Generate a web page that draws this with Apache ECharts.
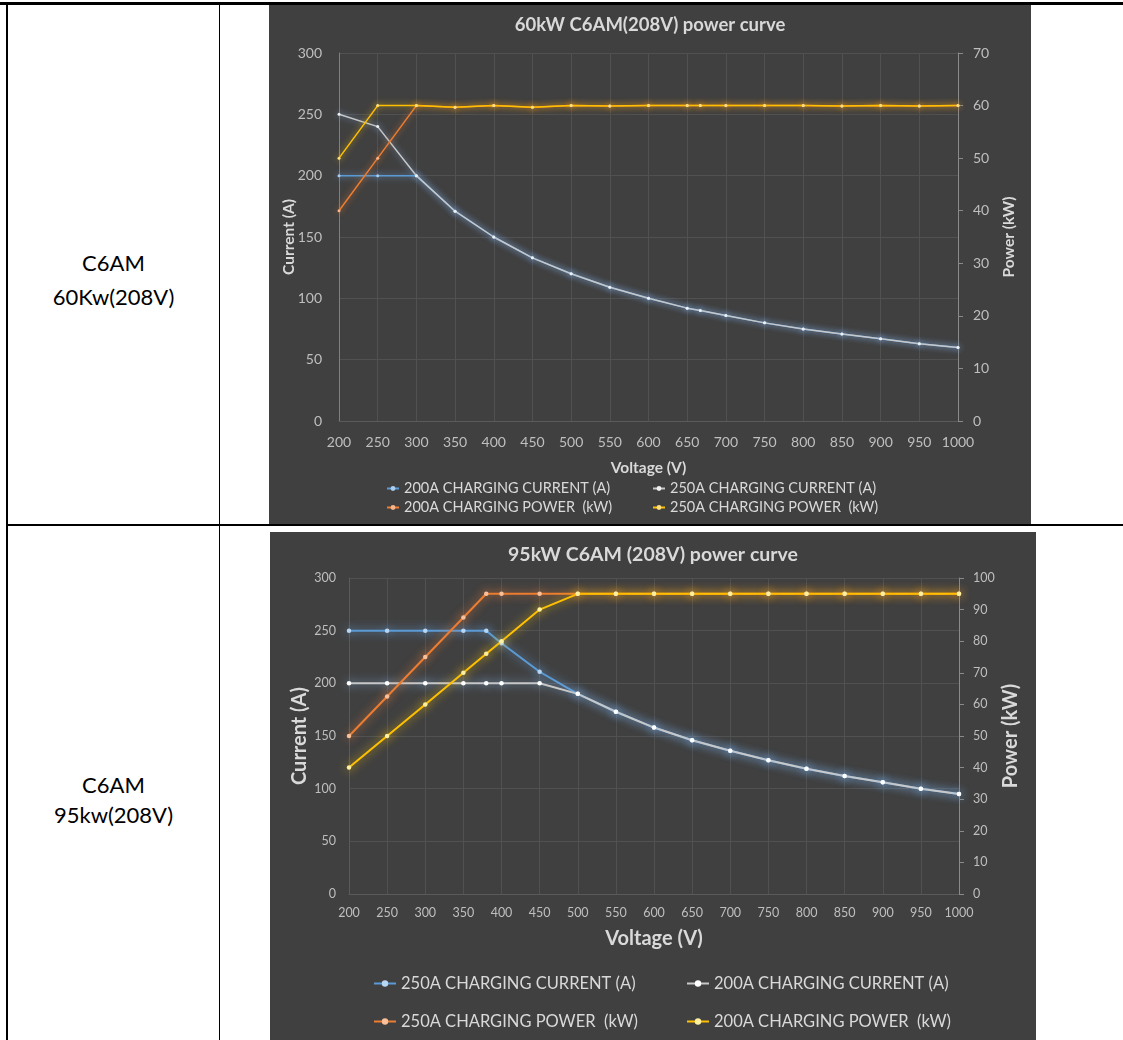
<!DOCTYPE html>
<html><head><meta charset="utf-8">
<script src="https://cdn.jsdelivr.net/npm/echarts@6/dist/echarts.min.js"></script>
<style>
html,body{margin:0;padding:0;background:#fff;width:1123px;height:1040px;overflow:hidden;}
.ln{position:absolute;background:#000;}
.lbl{position:absolute;left:8px;width:211px;text-align:center;font-family:Lato,'Noto Sans',sans-serif;font-size:22px;color:#000;line-height:30px;height:30px;white-space:nowrap;}
#c1{position:absolute;left:269px;top:5px;width:762px;height:519px;}
#c2{position:absolute;left:270px;top:532px;width:766px;height:508px;outline:1px solid #a0a0a0;outline-offset:-1px;}
</style></head><body>
<div class="ln" style="left:0;top:2px;width:1123px;height:3px"></div>
<div class="ln" style="left:6px;top:2px;width:2px;height:1038px"></div>
<div class="ln" style="left:219px;top:2px;width:1px;height:1038px"></div>
<div class="ln" style="left:6px;top:524px;width:1117px;height:2px"></div>
<div class="lbl" id="r1a" style="top:248px"></div>
<div class="lbl" id="r1b" style="top:282px"></div>
<div class="lbl" id="r2a" style="top:770px"></div>
<div class="lbl" id="r2b" style="top:800px"></div>
<div id="c1"></div>
<div id="c2"></div>
<script>
// ---------- Row labels ----------
const rowLabels1 = ['C6AM', '60Kw(208V)'];
const rowLabels2 = ['C6AM', '95kw(208V)'];

// ---------- Chart 1 data: 60kW ----------
const title1 = '60kW C6AM(208V) power curve';
const voltage1 = [200,250,300,350,400,450,500,550,600,650,667,700,750,800,850,900,950,1000];
const names1 = ['200A CHARGING CURRENT (A)','250A CHARGING CURRENT (A)','200A CHARGING POWER  (kW)','250A CHARGING POWER  (kW)'];
const cur200A_60 = [200,200,200,171,150,133,120,109,100,92,90,86,80,75,71,67,63,60];
const cur250A_60 = [250,240,200,171,150,133,120,109,100,92,90,86,80,75,71,67,63,60];
const pow200A_60 = [40,50,60,59.7,60,59.7,60,59.9,60,60,60,60,60,60,59.9,60,59.9,60];
const pow250A_60 = [50,60,60,59.7,60,59.7,60,59.9,60,60,60,60,60,60,59.9,60,59.9,60];
const powerMax1 = 70;

// ---------- Chart 2 data: 95kW ----------
const title2 = '95kW C6AM (208V) power curve';
const voltage2 = [200,250,300,350,380,400,450,500,550,600,650,700,750,800,850,900,950,1000];
const names2 = ['250A CHARGING CURRENT (A)','200A CHARGING CURRENT (A)','250A CHARGING POWER  (kW)','200A CHARGING POWER  (kW)'];
const cur250A_95 = [250,250,250,250,250,238,211,190,173,158,146,136,127,119,112,106,100,95];
const cur200A_95 = [200,200,200,200,200,200,200,190,173,158,146,136,127,119,112,106,100,95];
const pow250A_95 = [50,62.5,75,87.5,95,95,95,95,95,95,95,95,95,95,95,95,95,95];
const pow200A_95 = [40,50,60,70,76,80,90,95,95,95,95,95,95,95,95,95,95,95];
const powerMax2 = 100;

document.getElementById('r1a').textContent = rowLabels1[0];
document.getElementById('r1b').textContent = rowLabels1[1];
document.getElementById('r2a').textContent = rowLabels2[0];
document.getElementById('r2b').textContent = rowLabels2[1];

const F = 'Lato, "Noto Sans", sans-serif';
const BLUE = '#5b9bd5', GRAY = '#c8c8c8', ORANGE = '#ed7d31', YELLOW = '#ffc000';
const plain = v => String(v);

function pairs(xs, ys){ return xs.map((x,i)=>[x, ys[i]]); }

function build(c){
  const styles = c.styles;
  const series = c.values.map((vals,i)=>({
    name: c.names[i], type:'line', yAxisIndex: c.axisIdx[i],
    data: pairs(c.xs, vals),
    symbol:'circle', symbolSize: c.sym, showSymbol:true,
    lineStyle:{color: styles[i].color, width: c.lw, shadowBlur: c.blur, shadowColor: styles[i].glow},
    itemStyle:{color: styles[i].marker, shadowBlur: c.blur, shadowColor: styles[i].glow},
    emphasis:{disabled:true}
  }));
  const legends = c.names.map((n,i)=>({
    data:[n], left: c.legPos[i][0], top: c.legPos[i][1], padding:0, itemGap:0,
    itemWidth: c.legIconW, itemHeight: c.legIconH,
    textStyle:{color:'#d9d9d9', fontSize: c.legFont, fontFamily:F}, selectedMode:false
  }));
  const grid = Object.assign({outerBoundsMode:'none', containLabel:false}, c.grid);
  return {
    backgroundColor:'#404040', animation:false,
    title:{text:c.title, left:'center', top:c.titleTop, textStyle:{color:'#d9d9d9', fontSize:c.titleFont, fontWeight:'bold', fontFamily:F}},
    grid,
    legend: legends,
    xAxis:{type:'value', min:200, max:1000, interval:50,
      name:'Voltage (V)', nameLocation:'middle', nameGap:c.xNameGap,
      nameTextStyle:{color:'#d9d9d9', fontWeight:'bold', fontSize:c.nameFont, fontFamily:F},
      axisLine:{lineStyle:{color:'#5a5a5a'}}, axisTick:{show:false},
      axisLabel:{color:'#bfbfbf', fontSize:c.tickFont, fontFamily:F, margin:c.xLabMargin, formatter:plain},
      splitLine:{show:true, lineStyle:{color:'#515151'}}},
    yAxis:[
      {type:'value', min:0, max:300, interval:50, position:'left',
        name:'Current (A)', nameLocation:'middle', nameGap:c.yNameGap, nameRotate:90, nameMoveOverlap:false,
        nameTextStyle:{color:'#d9d9d9', fontWeight:'bold', fontSize:c.nameFont, fontFamily:F},
        axisLine:{show:true, lineStyle:{color:c.leftAxisColor}}, axisTick:{show:false},
        axisLabel:{color:'#bfbfbf', fontSize:c.tickFont, fontFamily:F, margin:c.yLabMargin, formatter:plain},
        splitLine:{show:true, lineStyle:{color:'#515151'}}},
      {type:'value', min:0, max:c.powerMax, interval:10, position:'right',
        name:'Power (kW)', nameLocation:'middle', nameGap:c.y2NameGap, nameRotate:90, nameMoveOverlap:false,
        nameTextStyle:{color:'#d9d9d9', fontWeight:'bold', fontSize:c.nameFont, fontFamily:F},
        axisLine:{show:true, lineStyle:{color:'#8a8a8a'}},
        axisTick:{show:true, length:5, lineStyle:{color:'#8a8a8a'}},
        axisLabel:{color:'#bfbfbf', fontSize:c.tickFont, fontFamily:F, margin:c.y2LabMargin, formatter:plain},
        splitLine:{show:false}}
    ],
    series
  };
}

const chart1 = echarts.init(document.getElementById('c1'), null, {renderer:'canvas'});
chart1.setOption(build({
  title:title1, titleTop:6, titleFont:18.5, nameFont:15.5, tickFont:14, legFont:14.5,
  grid:{left:70, right:73, top:48, bottom:103},
  xNameGap:39, yNameGap:42, y2NameGap:43, xLabMargin:14, yLabMargin:17, y2LabMargin:15,
  leftAxisColor:'#7f7f7f', powerMax:powerMax1,
  xs:voltage1, names:names1, axisIdx:[0,0,1,1],
  values:[cur200A_60, cur250A_60, pow200A_60, pow250A_60],
  styles:[
    {color:BLUE, marker:'#a9cdf0', glow:'rgba(120,170,230,0.9)'},
    {color:GRAY, marker:'#f0f0f0', glow:'rgba(140,180,230,0.8)'},
    {color:ORANGE, marker:'#f7b48a', glow:'rgba(237,125,49,0.8)'},
    {color:YELLOW, marker:'#ffe080', glow:'rgba(255,192,0,0.8)'}
  ],
  sym:3, lw:1.5, blur:6,
  legIconW:12, legIconH:6,
  legPos:[[117,476],[383,476],[117,495],[383,495]]
}));

const chart2 = echarts.init(document.getElementById('c2'), null, {renderer:'canvas'});
chart2.setOption(build({
  title:title2, titleTop:8, titleFont:19.5, nameFont:20, tickFont:12.5, legFont:16.5,
  grid:{left:79, right:77, top:46, bottom:146},
  xNameGap:35, yNameGap:39, y2NameGap:42, xLabMargin:12, yLabMargin:13, y2LabMargin:14,
  leftAxisColor:'#5a5a5a', powerMax:powerMax2,
  xs:voltage2, names:names2, axisIdx:[0,0,1,1],
  values:[cur250A_95, cur200A_95, pow250A_95, pow200A_95],
  styles:[
    {color:BLUE, marker:'#b7d6f4', glow:'rgba(110,170,235,0.95)'},
    {color:GRAY, marker:'#ffffff', glow:'rgba(140,185,235,0.85)'},
    {color:ORANGE, marker:'#f9c09a', glow:'rgba(240,130,60,0.9)'},
    {color:YELLOW, marker:'#fff0a0', glow:'rgba(255,200,0,0.9)'}
  ],
  sym:4.5, lw:2, blur:10,
  legIconW:22, legIconH:8,
  legPos:[[103,443],[416,443],[103,481],[416,481]]
}));
</script>
</body></html>
